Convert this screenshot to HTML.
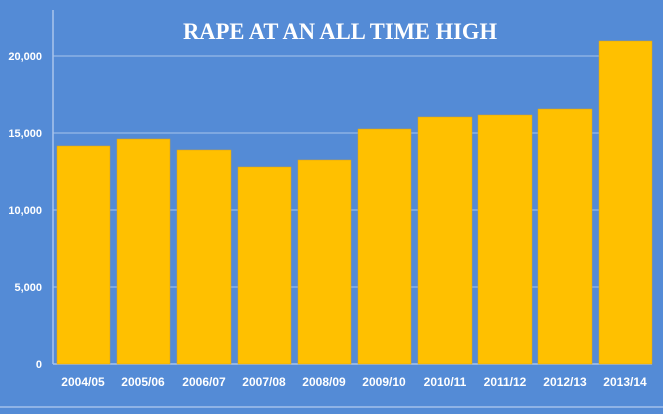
<!DOCTYPE html>
<html><head><style>
body{margin:0;width:663px;height:409px;background:#548bd6;overflow:hidden;font-family:"Liberation Sans",sans-serif}
</style></head><body>
<svg width="663" height="409" xmlns="http://www.w3.org/2000/svg">
<rect width="663" height="409" fill="#548bd6"/>
<line x1="0" y1="407" x2="663" y2="407" stroke="#8fb3e6" stroke-width="2"/>
<text x="340" y="39" text-anchor="middle" fill="#fff" font-family="Liberation Serif,serif" font-weight="bold" font-size="23" textLength="314" lengthAdjust="spacingAndGlyphs">RAPE AT AN ALL TIME HIGH</text>
<g stroke="#a9c4ec" stroke-width="1">
<line x1="53" y1="56" x2="652" y2="56"/><line x1="53" y1="133" x2="652" y2="133"/>
<line x1="53" y1="210" x2="652" y2="210"/><line x1="53" y1="287" x2="652" y2="287"/>
<line x1="53" y1="364" x2="652" y2="364" stroke-width="1.5"/>
<line x1="53" y1="10" x2="53" y2="364" stroke-width="1.5"/>
</g>
<g fill="#fff" font-weight="bold" font-size="11" text-anchor="end">
<text x="42" y="60">20,000</text><text x="42" y="137">15,000</text>
<text x="42" y="214">10,000</text><text x="42" y="291">5,000</text><text x="42" y="368">0</text>
</g>
<g fill="#ffc000" stroke="#d9a21a" stroke-width="0.5">
<rect x="57" y="146" width="53" height="218"/>
<rect x="117" y="139" width="53" height="225"/>
<rect x="177" y="150" width="54" height="214"/>
<rect x="238" y="167" width="53" height="197"/>
<rect x="298" y="160" width="53" height="204"/>
<rect x="358" y="129" width="53" height="235"/>
<rect x="418" y="117" width="54" height="247"/>
<rect x="478" y="115" width="54" height="249"/>
<rect x="538" y="109" width="54" height="255"/>
<rect x="599" y="41" width="53" height="323"/>
</g>
<g fill="#fff" font-weight="bold" font-size="12" text-anchor="middle">
<text x="83" y="386">2004/05</text><text x="143" y="386">2005/06</text>
<text x="204" y="386">2006/07</text><text x="264" y="386">2007/08</text>
<text x="324" y="386">2008/09</text><text x="384" y="386">2009/10</text>
<text x="445" y="386">2010/11</text><text x="505" y="386">2011/12</text>
<text x="565" y="386">2012/13</text><text x="625" y="386">2013/14</text>
</g>
</svg>
</body></html>
